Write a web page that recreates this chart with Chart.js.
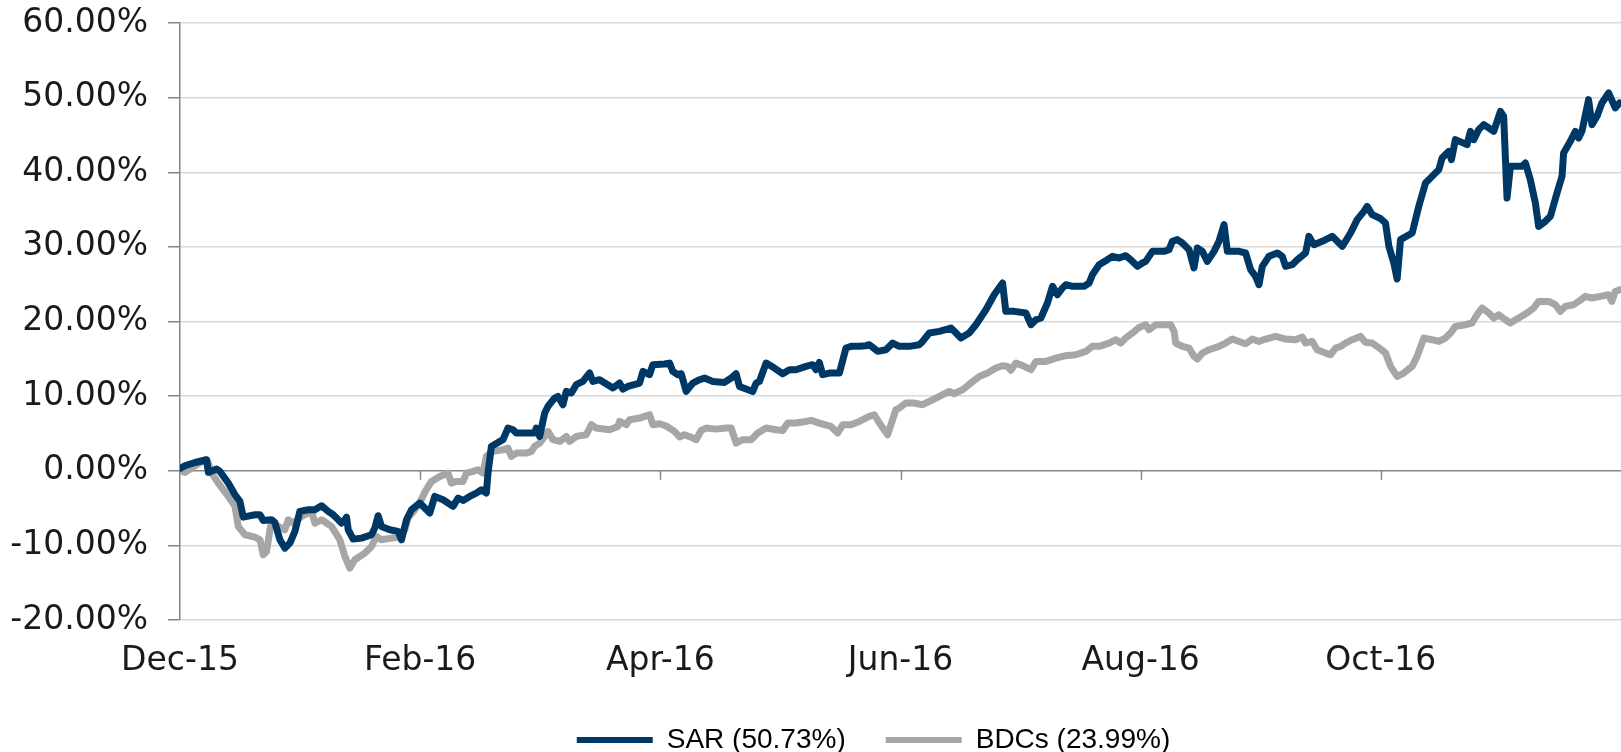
<!DOCTYPE html>
<html>
<head>
<meta charset="utf-8">
<script src="https://cdn.jsdelivr.net/npm/chart.js@4.4.1/dist/chart.umd.min.js"></script>
<style>
  html, body { margin: 0; padding: 0; background: #fff; }
  #wrap { width: 1621px; height: 752px; position: relative; }
</style>
</head>
<body>
<div id="wrap"><canvas id="myChart" width="1621" height="752"></canvas></div>
<script>
// x values are months since Dec-15 (0 = Dec-15, 2 = Feb-16 ...)
const tickLabels = ['Dec-15', 'Feb-16', 'Apr-16', 'Jun-16', 'Aug-16', 'Oct-16', '']

const sarMonth = [0, 0.04, 0.125, 0.222, 0.236, 0.305, 0.333, 0.402, 0.458, 0.499, 0.527, 0.624, 0.666, 0.693, 0.763, 0.79, 0.832, 0.874, 0.915, 0.957, 0.998, 1.068, 1.123, 1.179, 1.234, 1.276, 1.345, 1.373, 1.387, 1.401, 1.442, 1.512, 1.595, 1.622, 1.65, 1.678, 1.747, 1.816, 1.844, 1.886, 1.928, 1.997, 2.038, 2.08, 2.121, 2.191, 2.274, 2.316, 2.357, 2.413, 2.468, 2.51, 2.551, 2.565, 2.593, 2.662, 2.69, 2.731, 2.773, 2.801, 2.953, 2.967, 2.995, 3.037, 3.064, 3.12, 3.148, 3.189, 3.217, 3.259, 3.3, 3.355, 3.411, 3.439, 3.494, 3.605, 3.661, 3.688, 3.73, 3.827, 3.855, 3.882, 3.91, 3.938, 4.035, 4.077, 4.104, 4.146, 4.174, 4.215, 4.271, 4.326, 4.368, 4.437, 4.534, 4.59, 4.631, 4.659, 4.714, 4.77, 4.798, 4.825, 4.881, 4.95, 5.019, 5.075, 5.13, 5.213, 5.269, 5.297, 5.324, 5.352, 5.408, 5.491, 5.546, 5.588, 5.657, 5.713, 5.74, 5.81, 5.879, 5.935, 5.99, 6.073, 6.156, 6.184, 6.24, 6.323, 6.42, 6.448, 6.503, 6.572, 6.628, 6.711, 6.78, 6.85, 6.877, 6.947, 7.044, 7.086, 7.127, 7.169, 7.224, 7.266, 7.307, 7.349, 7.377, 7.432, 7.529, 7.571, 7.598, 7.654, 7.723, 7.765, 7.82, 7.876, 7.917, 7.973, 8.014, 8.042, 8.098, 8.195, 8.236, 8.264, 8.305, 8.347, 8.403, 8.444, 8.472, 8.514, 8.555, 8.611, 8.652, 8.694, 8.722, 8.819, 8.874, 8.916, 8.957, 8.985, 9.013, 9.068, 9.138, 9.179, 9.207, 9.262, 9.304, 9.373, 9.401, 9.443, 9.512, 9.595, 9.679, 9.748, 9.803, 9.859, 9.886, 9.928, 9.997, 10.039, 10.067, 10.108, 10.136, 10.164, 10.261, 10.316, 10.372, 10.427, 10.483, 10.51, 10.566, 10.588, 10.621, 10.718, 10.746, 10.774, 10.815, 10.857, 10.94, 10.996, 11.023, 11.051, 11.079, 11.176, 11.204, 11.245, 11.287, 11.314, 11.37, 11.412, 11.467, 11.509, 11.522, 11.578, 11.62, 11.647, 11.675, 11.73, 11.758, 11.8, 11.841, 11.897, 11.952, 11.988]
const sarReturn = [0.3, 0.67, 1.11, 1.47, -0.22, 0.22, -0.09, -1.65, -3.22, -4.11, -6.21, -5.9, -5.9, -6.66, -6.57, -6.93, -9.25, -10.37, -9.7, -8.13, -5.45, -5.23, -5.23, -4.69, -5.45, -5.9, -7.01, -6.57, -6.21, -7.91, -9.16, -9.03, -8.58, -7.68, -6.03, -7.46, -7.91, -8.13, -9.25, -6.57, -5.23, -4.33, -5.0, -5.67, -3.44, -3.89, -4.78, -3.66, -3.98, -3.44, -2.99, -2.55, -2.99, -0.31, 3.26, 3.93, 4.16, 5.72, 5.5, 5.05, 5.05, 5.72, 4.6, 7.73, 8.62, 9.74, 9.96, 8.85, 10.63, 10.41, 11.53, 11.97, 13.1, 11.97, 12.2, 11.09, 11.75, 10.95, 11.3, 11.75, 13.31, 13.1, 12.87, 14.21, 14.3, 14.43, 13.31, 12.87, 13.0, 10.63, 11.75, 12.2, 12.42, 11.97, 11.84, 12.42, 13.0, 11.3, 10.95, 10.63, 11.75, 11.97, 14.43, 13.76, 13.0, 13.54, 13.54, 13.98, 14.21, 13.54, 14.52, 12.87, 13.09, 13.09, 16.45, 16.67, 16.67, 16.76, 16.89, 16.0, 16.22, 17.11, 16.67, 16.67, 16.89, 17.33, 18.45, 18.68, 19.12, 18.68, 17.78, 18.45, 19.57, 21.58, 23.59, 25.16, 21.36, 21.36, 21.14, 19.57, 20.24, 20.47, 22.48, 24.71, 23.59, 24.49, 24.93, 24.71, 24.71, 25.16, 26.27, 27.61, 28.28, 28.73, 28.51, 28.82, 28.28, 27.39, 27.84, 28.06, 29.4, 29.4, 29.62, 30.74, 30.97, 30.52, 29.62, 27.17, 29.85, 29.4, 28.06, 29.4, 30.74, 32.98, 29.4, 29.4, 29.18, 26.94, 26.05, 24.93, 27.39, 28.73, 29.18, 28.73, 27.39, 27.61, 28.28, 29.18, 31.41, 30.29, 30.74, 31.41, 30.07, 31.86, 33.65, 34.76, 35.43, 34.32, 33.8, 33.2, 30.07, 27.84, 25.7, 30.97, 31.86, 35.43, 38.56, 39.45, 40.35, 41.91, 42.8, 41.69, 44.37, 43.7, 45.49, 44.37, 45.71, 46.38, 45.49, 48.17, 47.5, 36.55, 40.79, 40.79, 41.24, 39.01, 35.88, 32.75, 33.42, 34.09, 37.22, 39.45, 42.58, 44.14, 45.49, 44.59, 45.49, 49.73, 46.38, 47.5, 49.29, 50.63, 48.62, 49.29]

const bdcMonth = [0, 0.042, 0.125, 0.208, 0.236, 0.264, 0.319, 0.402, 0.458, 0.485, 0.541, 0.624, 0.666, 0.693, 0.721, 0.749, 0.763, 0.818, 0.874, 0.901, 0.943, 1.012, 1.096, 1.123, 1.179, 1.262, 1.331, 1.373, 1.414, 1.456, 1.539, 1.595, 1.636, 1.678, 1.761, 1.816, 1.872, 1.899, 1.955, 1.997, 2.038, 2.094, 2.163, 2.232, 2.26, 2.302, 2.357, 2.385, 2.44, 2.482, 2.524, 2.551, 2.607, 2.69, 2.731, 2.759, 2.801, 2.884, 2.926, 2.953, 2.995, 3.037, 3.064, 3.106, 3.162, 3.217, 3.245, 3.3, 3.383, 3.425, 3.466, 3.577, 3.647, 3.661, 3.716, 3.744, 3.827, 3.91, 3.938, 3.993, 4.049, 4.118, 4.16, 4.201, 4.271, 4.298, 4.34, 4.382, 4.465, 4.548, 4.59, 4.631, 4.687, 4.756, 4.811, 4.881, 4.964, 5.019, 5.061, 5.13, 5.213, 5.255, 5.324, 5.421, 5.477, 5.519, 5.588, 5.657, 5.74, 5.782, 5.824, 5.893, 5.962, 5.99, 6.045, 6.115, 6.184, 6.24, 6.295, 6.378, 6.406, 6.448, 6.517, 6.586, 6.656, 6.725, 6.794, 6.85, 6.891, 6.919, 6.961, 7.03, 7.086, 7.127, 7.21, 7.293, 7.377, 7.46, 7.543, 7.598, 7.654, 7.737, 7.793, 7.834, 7.876, 7.931, 7.987, 8.042, 8.07, 8.125, 8.25, 8.278, 8.292, 8.347, 8.403, 8.444, 8.472, 8.514, 8.569, 8.652, 8.708, 8.763, 8.819, 8.874, 8.929, 8.985, 9.041, 9.124, 9.207, 9.29, 9.346, 9.373, 9.429, 9.47, 9.54, 9.581, 9.623, 9.665, 9.706, 9.762, 9.831, 9.873, 9.928, 9.983, 10.039, 10.081, 10.136, 10.191, 10.261, 10.302, 10.358, 10.427, 10.483, 10.538, 10.58, 10.621, 10.705, 10.76, 10.801, 10.843, 10.899, 10.94, 10.982, 11.037, 11.079, 11.148, 11.217, 11.273, 11.314, 11.398, 11.453, 11.495, 11.536, 11.606, 11.647, 11.703, 11.758, 11.828, 11.897, 11.924, 11.952, 11.988]
const bdcReturn = [0.04, -0.22, 0.67, 1.47, 1.03, -0.31, -1.65, -3.44, -4.78, -7.46, -8.58, -8.89, -9.25, -11.26, -10.82, -7.91, -6.79, -7.46, -7.91, -6.57, -7.01, -6.12, -5.45, -7.01, -6.57, -7.46, -9.25, -11.48, -13.05, -11.93, -11.04, -10.14, -8.8, -9.25, -9.03, -8.89, -7.91, -6.35, -5.23, -4.3, -2.9, -1.43, -0.76, -0.31, -1.65, -1.43, -1.43, -0.31, -0.09, 0.13, -0.31, 1.92, 2.59, 2.82, 3.04, 1.92, 2.37, 2.37, 2.59, 3.26, 3.71, 4.6, 5.27, 4.16, 3.93, 4.6, 3.93, 4.6, 4.83, 6.17, 5.72, 5.5, 5.94, 6.61, 6.17, 6.84, 7.06, 7.51, 6.17, 6.3, 6.0, 5.27, 4.52, 4.83, 4.38, 4.16, 5.4, 5.72, 5.58, 5.72, 5.72, 3.71, 4.16, 4.16, 5.05, 5.72, 5.5, 5.4, 6.39, 6.39, 6.61, 6.75, 6.39, 5.94, 5.05, 6.17, 6.17, 6.61, 7.28, 7.51, 6.39, 4.83, 8.18, 8.4, 9.07, 9.07, 8.85, 9.29, 9.74, 10.41, 10.63, 10.32, 10.86, 11.75, 12.64, 13.09, 13.76, 14.08, 13.99, 13.45, 14.43, 13.99, 13.54, 14.65, 14.65, 15.1, 15.42, 15.55, 15.99, 16.67, 16.67, 17.11, 17.56, 17.11, 17.78, 18.45, 19.2, 19.57, 18.9, 19.57, 19.57, 18.68, 17.11, 16.67, 16.44, 15.33, 14.97, 15.77, 16.22, 16.67, 17.11, 17.65, 17.33, 17.02, 17.65, 17.33, 17.65, 18.0, 17.65, 17.56, 17.92, 17.11, 17.33, 16.22, 15.77, 15.55, 16.44, 16.67, 17.11, 17.56, 18.0, 17.2, 17.11, 16.5, 15.77, 13.99, 12.64, 13.09, 13.99, 15.33, 17.78, 17.56, 17.33, 17.78, 18.45, 19.35, 19.57, 19.8, 20.91, 21.81, 21.14, 20.47, 20.91, 20.24, 19.8, 20.47, 21.14, 21.81, 22.69, 22.69, 22.25, 21.36, 22.02, 22.25, 22.69, 23.37, 23.15, 23.37, 23.59, 22.69, 24.03, 24.25]

const seriesNames = ['SAR (50.73%)', 'BDCs (23.99%)']
const seriesColors = ['#003865', '#a6a6a6']

const toPoints = (xs, ys) => xs.map((m, i) => ({ x: m, y: ys[i] }))

// short tick marks hanging from the 0% axis line
const zeroAxisTicks = {
	id: 'zeroAxisTicks',
	afterLayout(chart) {
		// legend sits a bit left of the plot centre in the original
		chart.legend.left -= 27
		chart.legend.right -= 27
	},
	beforeDatasetsDraw(chart) {
		const { ctx, scales: { x, y } } = chart
		const y0 = y.getPixelForValue(0)
		ctx.save()
		ctx.strokeStyle = '#868686'
		ctx.lineWidth = 1.5
		x.ticks.forEach(t => {
			if (t.value <= 0 || t.value >= 12) return
			const px = Math.round(x.getPixelForValue(t.value)) + 0.5
			ctx.beginPath()
			ctx.moveTo(px, y0)
			ctx.lineTo(px, y0 + 9)
			ctx.stroke()
		})
		ctx.restore()
	}
}

const canvas = document.getElementById('myChart')
const myChart = new Chart(canvas, {
	type: 'line',
	data: {
		datasets: [
			{
				label: seriesNames[0],
				data: toPoints(sarMonth, sarReturn),
				borderColor: seriesColors[0],
				backgroundColor: seriesColors[0],
				borderWidth: 7,
				pointRadius: 0,
				tension: 0,
				borderJoinStyle: 'round',
				borderCapStyle: 'round'
			},
			{
				label: seriesNames[1],
				data: toPoints(bdcMonth, bdcReturn),
				borderColor: seriesColors[1],
				backgroundColor: seriesColors[1],
				borderWidth: 7,
				pointRadius: 0,
				tension: 0,
				borderJoinStyle: 'round',
				borderCapStyle: 'round'
			}
		]
	},
	options: {
		responsive: false,
		animation: false,
		layout: { padding: { top: 23, right: 0, left: 0, bottom: -12 } },
		plugins: {
			tooltip: { enabled: false },
			legend: {
				position: 'bottom',
				fullSize: false,
				labels: {
					boxWidth: 76,
					boxHeight: 6,
					padding: 40,
					color: '#1f1f1f',
					font: { family: '"Liberation Sans", Arial, sans-serif', size: 28 },
					generateLabels: (chart) => chart.data.datasets.map((ds, i) => ({
						text: ds.label,
						fillStyle: ds.borderColor,
						strokeStyle: ds.borderColor,
						lineWidth: 0,
						datasetIndex: i
					}))
				}
			}
		},
		scales: {
			x: {
				type: 'linear',
				min: 0,
				max: 12,
				afterFit: (scale) => {
					scale.height = 66
					scale.paddingLeft = 0
					scale.paddingRight = 0
				},
				grid: { display: false },
				border: { display: false },
				ticks: {
					stepSize: 2,
					padding: 14,
					maxRotation: 0,
					autoSkip: false,
					color: '#1a1a1a',
					font: { family: '"DejaVu Sans", sans-serif', size: 33 },
					callback: (v) => tickLabels[v / 2] ?? ''
				}
			},
			y: {
				min: -20,
				max: 60,
				afterFit: (scale) => {
					scale.width = 180
					scale.paddingTop = 0
					scale.paddingBottom = 0
				},
				border: { display: true, color: '#868686', width: 1.5 },
				grid: {
					color: (c) => c.tick && c.tick.value === 0 ? '#868686' : '#d9d9d9',
					lineWidth: 1.5,
					tickLength: 12,
					tickColor: '#868686'
				},
				ticks: {
					stepSize: 10,
					padding: 20,
					color: '#1a1a1a',
					font: { family: '"DejaVu Sans", sans-serif', size: 33 },
					callback: (v) => v.toFixed(2) + '%'
				}
			}
		}
	},
	plugins: [zeroAxisTicks]
})
</script>
</body>
</html>
